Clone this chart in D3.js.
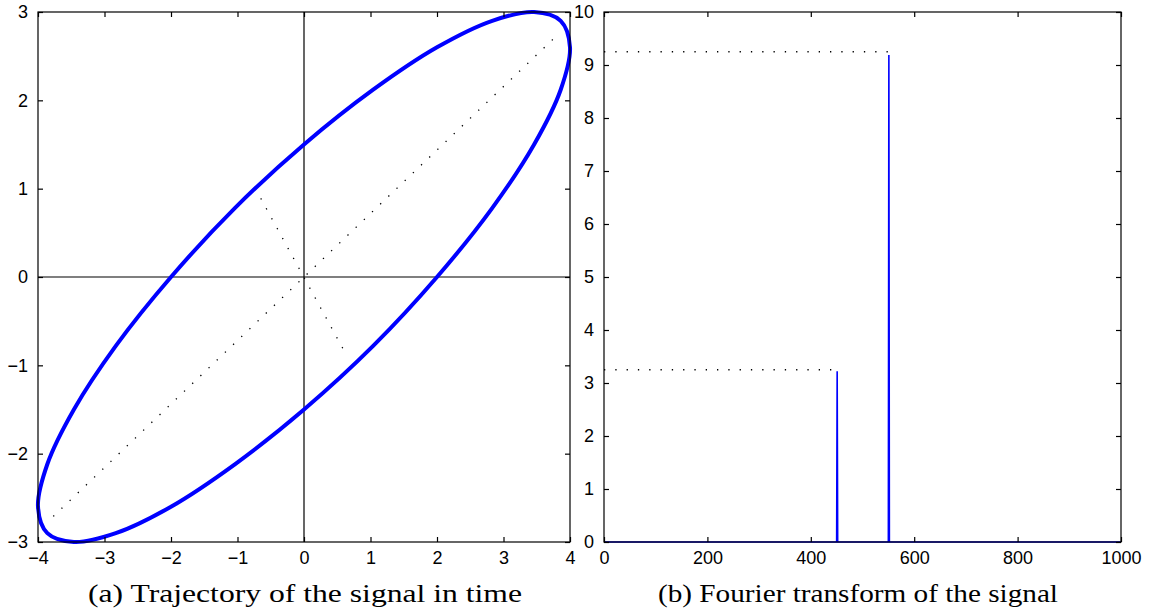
<!DOCTYPE html>
<html lang="en">
<head>
<meta charset="utf-8">
<script src="https://d3js.org/d3.v7.min.js"></script>
<style>
  body { margin: 0; background: #fff; }
  .tick text { font-family: "Liberation Sans", Arial, sans-serif; font-size: 18px; fill: #000; }
  .caption { font-family: "Liberation Serif", "Times New Roman", serif; font-size: 25px; fill: #000; }
</style>
</head>
<body>
<div id="chart"></div>
<script>

// (a) points on the trajectory
const trajX = [4, 3.86, 3.46, 2.83, 2, 1.04, 0, -1.04, -2, -2.83, -3.46, -3.86,
               -4, -3.86, -3.46, -2.83, -2, -1.04, 0, 1.04, 2, 2.83, 3.46, 3.86];
const trajY = [2.6, 2.9, 3, 2.9, 2.6, 2.12, 1.5, 0.78, 0, -0.78, -1.5, -2.12,
               -2.6, -2.9, -3, -2.9, -2.6, -2.12, -1.5, -0.78, 0, 0.78, 1.5, 2.12];
// dotted principal axes of the ellipse
const majorAxis = [[-3.77, -2.71], [3.77, 2.71]];
const minorAxis = [[-0.65, 0.89], [0.65, -0.9]];
const ticksA_x = [-4, -3, -2, -1, 0, 1, 2, 3, 4];
const ticksA_y = [-3, -2, -1, 0, 1, 2, 3];

// (b) magnitude spectrum
const freqBins = [0, 450, 451, 452, 550, 551, 552, 1000];
const magnitude = [0, 0, 3.22, 0, 0, 9.19, 0, 0];
const peakLevels = [[450, 3.25], [550, 9.25]];
const ticksB_x = [0, 200, 400, 600, 800, 1000];
const ticksB_y = [0, 1, 2, 3, 4, 5, 6, 7, 8, 9, 10];

const W = 1150, H = 615;
const svg = d3.select("#chart").append("svg")
  .attr("width", W).attr("height", H);

const plotTop = 12, plotBottom = 542, tickLen = 5;
const fmt = d3.format("d");

function frame(x, y, xt, yt) {
  const g = svg.append("g");
  const [x0, x1] = x.range();
  g.append("g").attr("transform", `translate(0,${plotBottom})`)
    .call(d3.axisBottom(x).tickValues(xt).tickFormat(fmt).tickSizeInner(-tickLen).tickSizeOuter(0).tickPadding(9));
  g.append("g").attr("transform", `translate(0,${plotTop})`)
    .call(d3.axisTop(x).tickValues(xt).tickSizeInner(-tickLen).tickSizeOuter(0).tickFormat(""));
  g.append("g").attr("transform", `translate(${x0},0)`)
    .call(d3.axisLeft(y).tickValues(yt).tickFormat(fmt).tickSizeInner(-tickLen).tickSizeOuter(0).tickPadding(10));
  g.append("g").attr("transform", `translate(${x1},0)`)
    .call(d3.axisRight(y).tickValues(yt).tickSizeInner(-tickLen).tickSizeOuter(0).tickFormat(""));
  g.selectAll(".domain").remove();
  g.selectAll(".tick line").attr("stroke", "#000").attr("stroke-width", 1.2);
  g.append("rect")
    .attr("x", x0).attr("y", plotTop)
    .attr("width", x1 - x0).attr("height", plotBottom - plotTop)
    .attr("fill", "none").attr("stroke", "#000").attr("stroke-width", 1.2);
  return g;
}

// ---- panel (a)
const xa = d3.scaleLinear().domain([-4, 4]).range([38, 570]);
const ya = d3.scaleLinear().domain([-3, 3]).range([plotBottom, plotTop]);

// zero lines
svg.append("line").attr("x1", xa(-4)).attr("x2", xa(4)).attr("y1", ya(0)).attr("y2", ya(0))
  .attr("stroke", "#000").attr("stroke-width", 1.2);
svg.append("line").attr("x1", xa(0)).attr("x2", xa(0)).attr("y1", ya(-3)).attr("y2", ya(3))
  .attr("stroke", "#000").attr("stroke-width", 1.2);

const lineA = d3.line().x(d => xa(d[0])).y(d => ya(d[1]));
[majorAxis, minorAxis].forEach(seg => {
  svg.append("path").attr("d", lineA(seg))
    .attr("fill", "none").attr("stroke", "#000").attr("stroke-width", 1.3)
    .attr("stroke-dasharray", "1.3,10");
});

const traj = trajX.map((v, i) => [v, trajY[i]]);
svg.append("path")
  .datum(traj)
  .attr("d", d3.line().x(d => xa(d[0])).y(d => ya(d[1])).curve(d3.curveCatmullRomClosed))
  .attr("fill", "none").attr("stroke", "#0000ff").attr("stroke-width", 4);

frame(xa, ya, ticksA_x, ticksA_y);

// ---- panel (b)
const xb = d3.scaleLinear().domain([0, 1000]).range([604, 1121]);
const yb = d3.scaleLinear().domain([0, 10]).range([plotBottom, plotTop]);

peakLevels.forEach(p => {
  svg.append("line")
    .attr("x1", xb(0)).attr("x2", xb(p[0])).attr("y1", yb(p[1])).attr("y2", yb(p[1]))
    .attr("stroke", "#000").attr("stroke-width", 1.3).attr("stroke-dasharray", "1.3,10");
});

svg.append("path")
  .datum(freqBins.map((f, i) => [f, magnitude[i]]))
  .attr("d", d3.line().x(d => xb(d[0])).y(d => yb(d[1])))
  .attr("fill", "none").attr("stroke", "#0000ff").attr("stroke-width", 1.6);

frame(xb, yb, ticksB_x, ticksB_y);

// captions
svg.append("text").attr("class", "caption")
  .attr("x", 305).attr("y", 602).attr("text-anchor", "middle")
  .attr("textLength", 434).attr("lengthAdjust", "spacingAndGlyphs")
  .text("(a) Trajectory of the signal in time");
svg.append("text").attr("class", "caption")
  .attr("x", 858).attr("y", 602).attr("text-anchor", "middle")
  .attr("textLength", 400).attr("lengthAdjust", "spacingAndGlyphs")
  .text("(b) Fourier transform of the signal");

</script>
</body>
</html>
